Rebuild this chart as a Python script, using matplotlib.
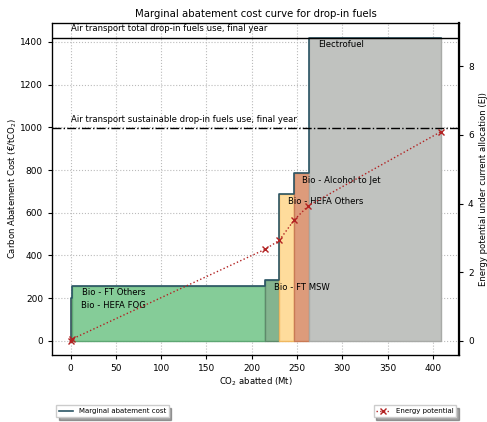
import matplotlib
matplotlib.use("Agg")
import matplotlib.pyplot as plt
import numpy as np

# Pathways ordered by abatement cost
pathways = ["Bio - HEFA FOG", "Bio - FT Others", "Bio - FT MSW",
            "Bio - HEFA Others", "Bio - Alcohol to Jet", "Electrofuel"]
abated_co2 = [1.5, 213.5, 15.5, 16.5, 15.8, 146.0]        # Mt per pathway
abatement_cost = [201, 259, 287, 688, 786, 1420]         # EUR/tCO2
fill_colors = ["#fedc9c", "#85cc98", "#84b48f", "#fedc9c", "#dd9b7b", "#c0c2bf"]
edge_colors = ["#e8a850", "#5ea774", "#5e8a6b", "#f0b860", "#c97a55", "#a8aaa7"]

# Cumulative energy potential (EJ) against cumulative abated CO2 (Mt)
energy_x = [0.0, 1.5, 215.0, 230.5, 246.8, 262.6, 408.5]
energy_y = [0.0, 0.05, 2.67, 2.93, 3.52, 3.94, 6.09]

total_dropin_level = 1420
sustainable_dropin_level = 995

FS = 6.1

fig = plt.figure(figsize=(4.87, 4.22), dpi=100)
ax = fig.add_axes([0.107, 0.159, 0.8355, 0.787])

widths = np.array(abated_co2)
lefts = np.concatenate([[0], np.cumsum(widths)[:-1]])
rights = lefts + widths

for l, w, c, fc, ec in zip(lefts, widths, abatement_cost, fill_colors, edge_colors):
    ax.bar(l, c, width=w, align="edge", color=fc, edgecolor=ec, linewidth=1.0, zorder=2)

# Marginal abatement cost step outline
step_x = [lefts[0]]
step_y = [0]
for l, r, c in zip(lefts, rights, abatement_cost):
    step_x += [l, r]
    step_y += [c, c]
mac_line, = ax.plot(step_x, step_y, color="#2b5565", linewidth=1.2, zorder=3,
                    label="Marginal abatement cost")

ax.axhline(total_dropin_level, color="black", linewidth=1.0, zorder=3)
ax.axhline(sustainable_dropin_level, color="black", linewidth=1.0,
           linestyle="-.", zorder=3)
ax.text(0, total_dropin_level + 20, "Air transport total drop-in fuels use, final year",
        fontsize=FS, va="bottom", ha="left")
ax.text(0, sustainable_dropin_level + 20,
        "Air transport sustainable drop-in fuels use, final year",
        fontsize=FS, va="bottom", ha="left")

label_pos = {
    "Bio - FT Others": (13, 225),
    "Bio - HEFA FOG": (11, 164),
    "Bio - FT MSW": (224.5, 248),
    "Bio - HEFA Others": (240, 651),
    "Bio - Alcohol to Jet": (256, 749),
    "Electrofuel": (273, 1386),
}
for name in pathways:
    x, y = label_pos[name]
    ax.text(x, y, name, fontsize=FS, va="center", ha="left", zorder=5)

ax.set_xlim(-20.4, 428.9)
ax.set_ylim(-66, 1490)
ax.set_xticks(np.arange(0, 401, 50))
ax.set_yticks(np.arange(0, 1401, 200))
ax.tick_params(labelsize=6.5, length=3)
ax.grid(True, linestyle=":", color="#bbbbbb", linewidth=0.8, zorder=0)
ax.set_axisbelow(True)
ax.set_xlabel("CO$_2$ abatted (Mt)", fontsize=FS, labelpad=2)
ax.set_ylabel("Carbon Abatement Cost (€/tCO$_2$)", fontsize=FS, labelpad=1)
ax.set_title("Marginal abatement cost curve for drop-in fuels", fontsize=7.3, pad=4)

ax2 = ax.twinx()
ax2.set_ylim(-0.41, 9.27)
ax2.set_yticks([0, 2, 4, 6, 8])
ax2.tick_params(labelsize=6.5, length=3)
for s in ax2.spines.values():
    s.set_linewidth(0.9)
ax2.spines["right"].set_linewidth(1.6)
energy_line, = ax2.plot(energy_x, energy_y, color="#b22222", linestyle=":",
                        marker="x", markersize=4, linewidth=1.0,
                        label="Energy potential")
ax2.set_ylabel("Energy potential under current allocation (EJ)", fontsize=FS)

fig.legend(handles=[mac_line], loc="center", bbox_to_anchor=(0.231, 0.026),
           fontsize=5.0, shadow=True, fancybox=False, framealpha=1)
fig.legend(handles=[energy_line], loc="center", bbox_to_anchor=(0.852, 0.026),
           fontsize=5.0, shadow=True, fancybox=False, framealpha=1)

fig.savefig("out.png", dpi=100)
